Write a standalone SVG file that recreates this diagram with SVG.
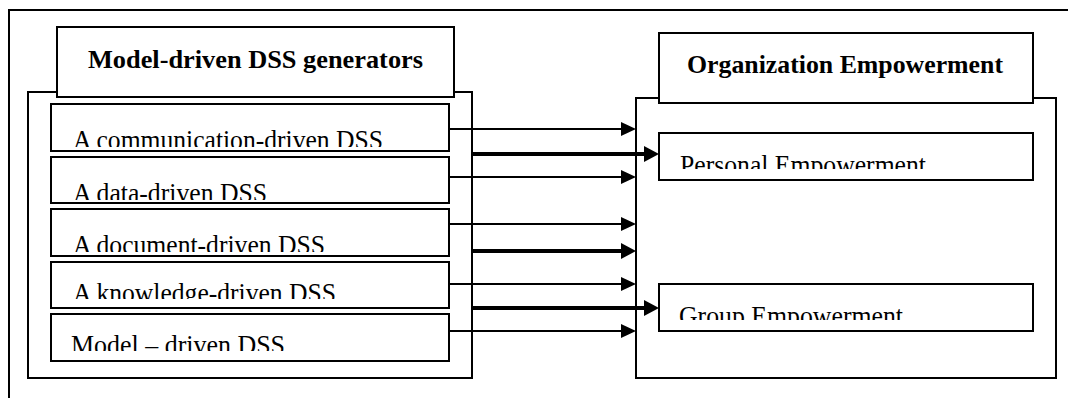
<svg xmlns="http://www.w3.org/2000/svg" width="1068" height="398" viewBox="0 0 1068 398">
<style>
.box{fill:#fff;stroke:#000;stroke-width:2}
.frame{fill:none;stroke:#000;stroke-width:2}
.t{font-family:"Liberation Serif","Times New Roman",serif;font-size:27px;fill:#000}
.b{font-weight:bold;font-size:25px}
.thin{stroke:#000;stroke-width:2;fill:none}
.thick{stroke:#000;stroke-width:4;fill:none}
</style>
<defs>
<marker id="ah" markerUnits="userSpaceOnUse" markerWidth="16" markerHeight="16" refX="7" refY="7" orient="auto" viewBox="0 0 16 16">
<path d="M0,0 L15,7 L0,14 z" fill="#000"/>
</marker>
<marker id="ahT" markerUnits="userSpaceOnUse" markerWidth="18" markerHeight="18" refX="7" refY="8" orient="auto" viewBox="0 0 18 18">
<path d="M0,0 L15,8 L0,16 z" fill="#000"/>
</marker>
<clipPath id="c1"><rect x="52" y="105" width="396" height="42"/></clipPath>
<clipPath id="c2"><rect x="52" y="158" width="396" height="42"/></clipPath>
<clipPath id="c3"><rect x="52" y="210" width="396" height="42"/></clipPath>
<clipPath id="c4"><rect x="52" y="263" width="396" height="36"/></clipPath>
<clipPath id="c5"><rect x="52" y="315" width="396" height="36"/></clipPath>
<clipPath id="c6"><rect x="660" y="134" width="372" height="35"/></clipPath>
<clipPath id="c7"><rect x="660" y="285" width="372" height="35"/></clipPath>
</defs>
<rect width="1068" height="398" fill="#fff"/>
<path class="frame" d="M9,398 V10 H1068"/>

<g id="left-container">
<rect class="box" x="28" y="92" width="444" height="286"/>
</g>
<g id="left-title">
<rect class="box" x="57" y="27" width="397" height="70"/>
<text class="t b" x="88" y="67.5" textLength="335" lengthAdjust="spacingAndGlyphs">Model-driven DSS generators</text>
</g>
<g id="item-communication">
<rect class="box" x="51" y="104" width="398" height="47"/>
<text class="t" x="73" y="149" clip-path="url(#c1)" textLength="310" lengthAdjust="spacingAndGlyphs">A communication-driven DSS</text>
</g>
<g id="item-data">
<rect class="box" x="51" y="157" width="398" height="46"/>
<text class="t" x="73" y="202" clip-path="url(#c2)" textLength="194" lengthAdjust="spacingAndGlyphs">A data-driven DSS</text>
</g>
<g id="item-document">
<rect class="box" x="51" y="209" width="398" height="47"/>
<text class="t" x="73" y="254" clip-path="url(#c3)" textLength="252" lengthAdjust="spacingAndGlyphs">A document-driven DSS</text>
</g>
<g id="item-knowledge">
<rect class="box" x="51" y="262" width="398" height="46"/>
<text class="t" x="73" y="302" clip-path="url(#c4)" textLength="263" lengthAdjust="spacingAndGlyphs">A knowledge-driven DSS</text>
</g>
<g id="item-model">
<rect class="box" x="51" y="314" width="398" height="47"/>
<text class="t" x="71" y="354" clip-path="url(#c5)" textLength="214" lengthAdjust="spacingAndGlyphs">Model – driven DSS</text>
</g>

<g id="right-container">
<rect class="box" x="636" y="98" width="420" height="280"/>
</g>
<g id="right-title">
<rect class="box" x="659" y="33" width="374" height="70"/>
<text class="t b" x="687" y="73" textLength="316" lengthAdjust="spacingAndGlyphs">Organization Empowerment</text>
</g>
<g id="personal">
<rect class="box" x="659" y="133" width="374" height="47"/>
<text class="t" x="680" y="174" clip-path="url(#c6)" textLength="246" lengthAdjust="spacingAndGlyphs">Personal Empowerment</text>
</g>
<g id="group">
<rect class="box" x="659" y="284" width="374" height="47"/>
<text class="t" x="679" y="325" clip-path="url(#c7)" textLength="224" lengthAdjust="spacingAndGlyphs">Group Empowerment</text>
</g>

<g id="connectors">
<line class="thin" x1="449" y1="129" x2="628" y2="129" marker-end="url(#ah)"/>
<line class="thick" x1="472" y1="154" x2="651" y2="154" marker-end="url(#ahT)"/>
<line class="thin" x1="449" y1="177" x2="628" y2="177" marker-end="url(#ah)"/>
<line class="thin" x1="449" y1="224" x2="628" y2="224" marker-end="url(#ah)"/>
<line class="thick" x1="472" y1="251" x2="628" y2="251" marker-end="url(#ahT)"/>
<line class="thin" x1="449" y1="284" x2="628" y2="284" marker-end="url(#ah)"/>
<line class="thick" x1="472" y1="308" x2="651" y2="308" marker-end="url(#ahT)"/>
<line class="thin" x1="449" y1="331" x2="628" y2="331" marker-end="url(#ah)"/>
</g>
</svg>
